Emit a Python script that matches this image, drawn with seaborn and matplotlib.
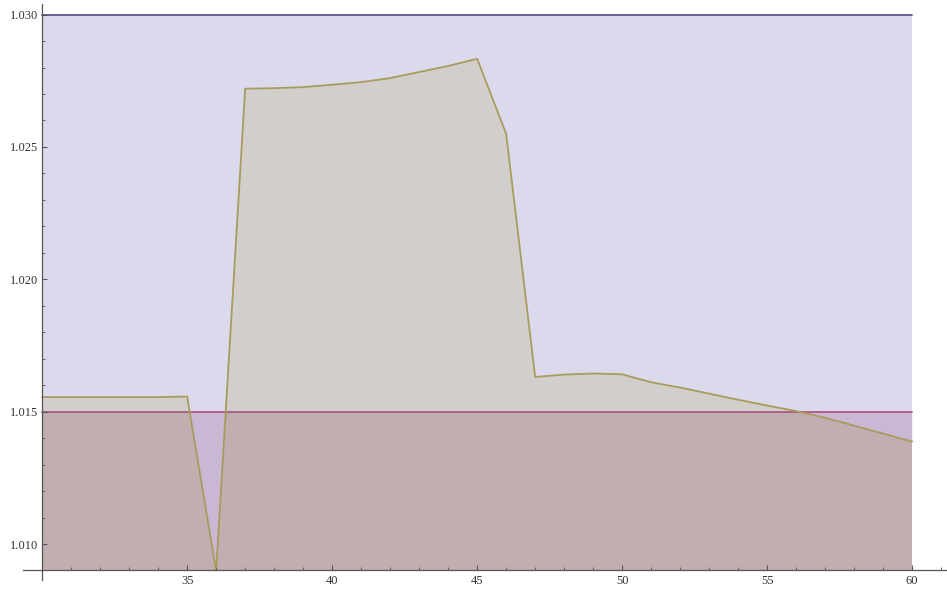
import numpy as np
import pandas as pd
import matplotlib
matplotlib.use("Agg")
import matplotlib.pyplot as plt
from matplotlib.ticker import FixedLocator, FormatStrFormatter
import seaborn as sns

# Measured series (x = step index, y = ratio)
x_vals = list(range(30, 61))
y_vals = [1.01555, 1.01555, 1.01555, 1.01555, 1.01555, 1.01557,
          1.00900,
          1.02720, 1.02722, 1.02726, 1.02735, 1.02745, 1.02760, 1.02783,
          1.02806, 1.02833,
          1.02549,
          1.01631, 1.01640, 1.01644, 1.01641, 1.01611, 1.01591, 1.01568,
          1.01545, 1.01523, 1.01502, 1.01477, 1.01447, 1.01417, 1.01387]

upper_limit = 1.030
lower_limit = 1.015
axis_origin = (30, 1.009)

x_ticks = [35, 40, 45, 50, 55, 60]
y_ticks = [1.010, 1.015, 1.020, 1.025, 1.030]

df = pd.DataFrame({"x": x_vals, "y": y_vals})
df["upper"] = upper_limit
df["lower"] = lower_limit

sns.set_style("white")
plt.rcParams["font.family"] = ["Liberation Serif", "DejaVu Serif"]

fig = plt.figure(figsize=(9.47, 5.89), dpi=100)
ax = fig.add_axes([23 / 947, 9 / 589, 924 / 947, 576 / 589])

x0, x1 = 29.34, 61.2
y0, y1 = 1.00864, 1.0304
ax.set_xlim(x0, x1)
ax.set_ylim(y0, y1)

xs = df["x"].to_numpy()
ys = df["y"].to_numpy()
base = np.full_like(ys, axis_origin[1])

blue_fill = (218 / 255, 218 / 255, 236 / 255)
grey_fill = (210 / 255, 206 / 255, 204 / 255)
red_fill = (192 / 255, 174 / 255, 176 / 255)
purple_fill = (202 / 255, 183 / 255, 212 / 255)

# Filled bands under each curve, down to the horizontal axis
ax.fill_between(xs, base, df["upper"], color=blue_fill, lw=0, zorder=0.1)
ax.fill_between(xs, df["lower"], ys, where=ys >= lower_limit,
                interpolate=True, color=grey_fill, lw=0, zorder=0.2)
ax.fill_between(xs, base, df["lower"], color=red_fill, lw=0, zorder=0.3)
ax.fill_between(xs, np.maximum(ys, axis_origin[1]), df["lower"],
                where=ys < lower_limit, interpolate=True,
                color=purple_fill, lw=0, zorder=0.4)

# Curves
sns.lineplot(data=df, x="x", y="upper", ax=ax, color="#5b5690", lw=1.3,
             zorder=1.0)
sns.lineplot(data=df, x="x", y="lower", ax=ax, color="#a8507e", lw=1.2,
             zorder=1.0)
sns.lineplot(data=df, x="x", y="y", ax=ax, color="#a89c5c", lw=1.3,
             zorder=1.2)

ax.set_xlabel("")
ax.set_ylabel("")

# Axes crossing at the plot origin
for side in ("top", "right"):
    ax.spines[side].set_visible(False)
ax.spines["left"].set_position(("data", axis_origin[0]))
ax.spines["bottom"].set_position(("data", axis_origin[1]))
for side in ("left", "bottom"):
    ax.spines[side].set_color("#555555")
    ax.spines[side].set_linewidth(0.9)
    ax.spines[side].set_zorder(10)
ax.xaxis.set_zorder(9)
ax.yaxis.set_zorder(9)

ax.xaxis.set_major_locator(FixedLocator(x_ticks))
ax.xaxis.set_minor_locator(FixedLocator(list(range(31, 62))))
ax.yaxis.set_major_locator(FixedLocator(y_ticks))
ax.yaxis.set_minor_locator(FixedLocator(list(np.round(np.arange(1.011, 1.0305, 0.001), 3))))
ax.yaxis.set_major_formatter(FormatStrFormatter("%.3f"))

ax.tick_params(axis="both", which="major", direction="in", length=3.5,
               width=0.8, color="#555555", labelsize=9,
               labelcolor="#333333", pad=3)
ax.tick_params(axis="both", which="minor", direction="in", length=2,
               width=0.6, color="#555555")
ax.tick_params(axis="x", which="both", bottom=True)
ax.tick_params(axis="y", which="both", left=True)

fig.savefig("out.png", dpi=100)
